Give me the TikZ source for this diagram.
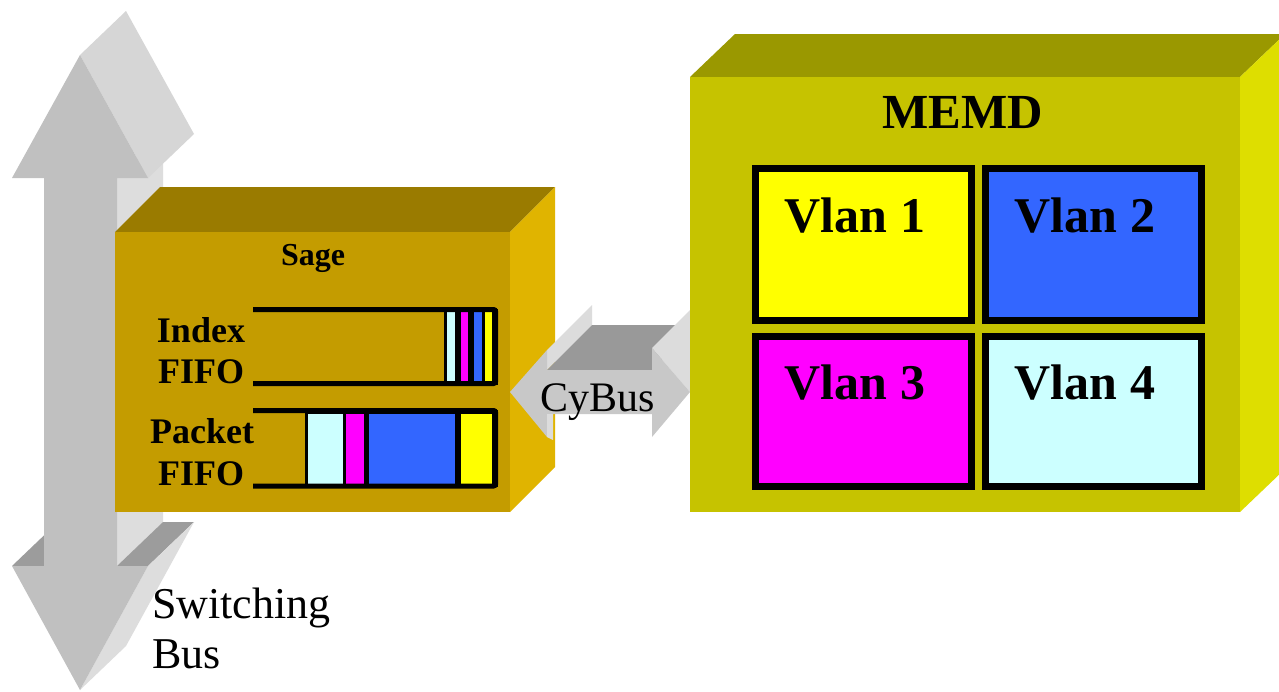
\documentclass[tikz,border=0pt]{standalone}
\usepackage{fontspec}
\setmainfont{Liberation Serif}
\definecolor{grFront}{HTML}{C0C0C0}
\definecolor{grLight}{HTML}{DDDDDD}
\definecolor{grHead}{HTML}{D6D6D6}
\definecolor{grDark}{HTML}{9C9C9C}
\definecolor{sgFront}{HTML}{C49C00}
\definecolor{sgTop}{HTML}{9A7B00}
\definecolor{sgRight}{HTML}{E0B400}
\definecolor{mmFront}{HTML}{C6C300}
\definecolor{mmTop}{HTML}{9A9800}
\definecolor{mmRight}{HTML}{DEDE00}
\definecolor{cyFront}{HTML}{C8C8C8}
\definecolor{cyLight}{HTML}{DCDCDC}
\definecolor{cyDark}{HTML}{999999}
\definecolor{vYellow}{HTML}{FFFF00}
\definecolor{vBlue}{HTML}{3366FF}
\definecolor{vMagenta}{HTML}{FF00FF}
\definecolor{vCyan}{HTML}{CCFFFF}
\tikzset{
  vlanbox/.style={draw=black, line width=7pt},
  tube/.style={draw=black, line width=5pt, rounded corners=2pt},
  boldlabel/.style={inner sep=0pt, font=\bfseries\fontsize{#1}{#1}\selectfont},
  plainlabel/.style={inner sep=0pt, font=\fontsize{#1}{#1}\selectfont},
}
\begin{document}
\begin{tikzpicture}[x=1pt,y=-1pt]
\useasboundingbox (0,0) rectangle (1279,691);
\fill[white] (0,0) rectangle (1279,691);
\clip (0,0) rectangle (1279,691);

% ---- Switching bus (3D double arrow) ----
\fill[grLight] (117,178) -- (117,566) -- (163,522) -- (163,134) -- cycle;
\fill[grHead] (148,178) -- (80,55) -- (126,11) -- (194,134) -- cycle;
\fill[grDark] (12,566) -- (44,566) -- (90,522) -- (58,522) -- cycle;
\fill[grDark] (117,566) -- (148,566) -- (194,522) -- (163,522) -- cycle;
\fill[grLight] (148,566) -- (80,690) -- (126,646) -- (194,522) -- cycle;
\fill[grFront] (80,55) -- (12,178) -- (44,178) -- (44,566) -- (12,566) -- (80,690)
  -- (148,566) -- (117,566) -- (117,178) -- (148,178) -- cycle;

% ---- Sage box ----
\fill[sgTop] (115,232) -- (510,232) -- (555,187) -- (160,187) -- cycle;
\fill[sgRight] (510,232) -- (555,187) -- (555,467) -- (510,512) -- cycle;
\fill[sgFront] (115,232) rectangle (510,512);

% Index FIFO
\fill[black] (444,309) rectangle (498,385);
\fill[vCyan] (447,312) rectangle (455,382);
\fill[vMagenta] (461,312) rectangle (468,382);
\fill[vBlue] (474,312) rectangle (482,382);
\fill[vYellow] (485,312) rectangle (492,382);
\draw[tube] (253,309.5) -- (495.5,309.5) -- (495.5,383.5) -- (253,383.5);
% Packet FIFO
\fill[black] (305,410) rectangle (498,487);
\fill[vCyan] (308,414) rectangle (343,484);
\fill[vMagenta] (346,414) rectangle (364,484);
\fill[vBlue] (369,414) rectangle (455,484);
\fill[vYellow] (461,414) rectangle (492,484);
\draw[tube] (253,410.5) -- (495.5,410.5) -- (495.5,486) -- (253,486);

\node[boldlabel=32, anchor=base] (sage) at (313,265) {Sage};
\node[boldlabel=36, anchor=base] (idx1) at (201,342) {Index};
\node[boldlabel=36, anchor=base] (idx2) at (201,383) {FIFO};
\node[boldlabel=36, anchor=base] (pkt1) at (202,443) {Packet};
\node[boldlabel=36, anchor=base] (pkt2) at (201,485) {FIFO};

% ---- CyBus (3D double arrow) ----
\fill[cyLight] (547,350) -- (547,370) -- (592,325) -- (592,305) -- cycle;
\fill[cyDark] (547,370) -- (652,370) -- (697,325) -- (592,325) -- cycle;
\fill[cyLight] (652,348) -- (690,392) -- (735,347) -- (697,303) -- cycle;
\fill[cyFront] (510,392) -- (547,350) -- (547,370) -- (652,370) -- (652,348) -- (690,392)
  -- (652,437) -- (652,414) -- (547,414) -- (547,437) -- cycle;
\fill[cyLight] (547,414) -- (553,414) -- (553,440) -- (547,437) -- cycle;
\node[plainlabel=42, anchor=base] (cybus) at (598,411) {CyBus};

% ---- MEMD box ----
\fill[mmTop] (690,77) -- (1240,77) -- (1285,34) -- (735,34) -- cycle;
\fill[mmRight] (1240,77) -- (1285,34) -- (1285,469) -- (1240,512) -- cycle;
\fill[mmFront] (690,77) rectangle (1240,512);
\node[boldlabel=49] (memd) at (963,113) {MEMD};

\filldraw[vlanbox, fill=vYellow] (755.5,168.5) rectangle (971.5,320.5);
\filldraw[vlanbox, fill=vBlue] (985.5,168.5) rectangle (1201.5,320.5);
\filldraw[vlanbox, fill=vMagenta] (755.5,336.5) rectangle (971.5,486.5);
\filldraw[vlanbox, fill=vCyan] (985.5,336.5) rectangle (1201.5,486.5);
\node[boldlabel=50, anchor=base] (v1) at (855,232) {Vlan 1};
\node[boldlabel=50, anchor=base] (v2) at (1085,232) {Vlan 2};
\node[boldlabel=50, anchor=base] (v3) at (855,399) {Vlan 3};
\node[boldlabel=50, anchor=base] (v4) at (1085,399) {Vlan 4};

% ---- Switching Bus label ----
\node[plainlabel=44, anchor=base west] (sw1) at (152,618) {Switching};
\node[plainlabel=44, anchor=base west] (sw2) at (152,668) {Bus};
\end{tikzpicture}
\end{document}
